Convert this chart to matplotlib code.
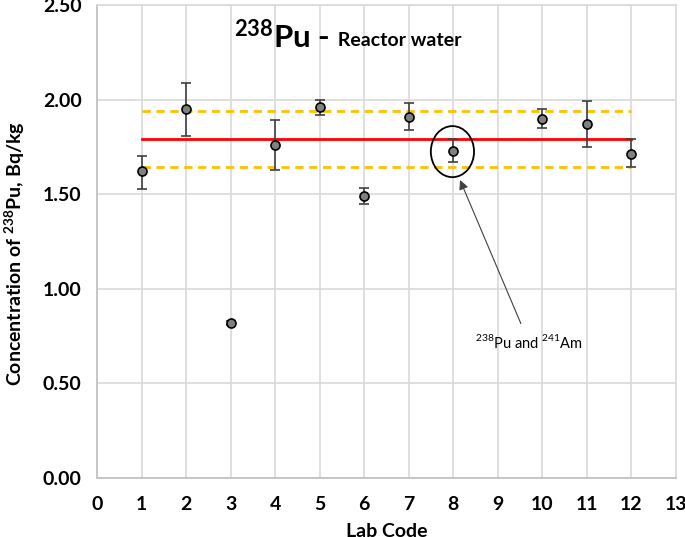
import numpy as np
import matplotlib.pyplot as plt
from matplotlib.patches import Ellipse

plt.rcParams['font.family'] = ['Lato', 'DejaVu Sans']
plt.rcParams['mathtext.fontset'] = 'custom'
plt.rcParams['mathtext.rm'] = 'Lato'
plt.rcParams['mathtext.bf'] = 'Lato:bold'

# lab results, Bq/kg (lab 9 did not report)
lab = [1, 2, 3, 4, 5, 6, 7, 8, 10, 11, 12]
conc = [1.62, 1.95, 0.82, 1.76, 1.96, 1.49, 1.91, 1.73, 1.90, 1.87, 1.71]
err_lo = [0.09, 0.14, 0.01, 0.13, 0.04, 0.04, 0.07, 0.06, 0.05, 0.12, 0.065]
err_hi = [0.08, 0.14, 0.01, 0.13, 0.04, 0.045, 0.07, 0.06, 0.05, 0.12, 0.08]

ref_value = 1.79
ref_upper = 1.94
ref_lower = 1.645
ref_x = [1, 12]

fig = plt.figure(figsize=(6.85, 5.37), dpi=100)
ax = fig.add_axes([0.1416, 0.1099, 0.9869 - 0.1416, 0.9907 - 0.1099])

ax.plot(ref_x, [ref_value, ref_value], color='#ff0000', lw=2, zorder=2)
ax.plot(ref_x, [ref_upper, ref_upper], color='#ffc000', lw=2, ls=(0, (3, 2)), zorder=2)
ax.plot(ref_x, [ref_lower, ref_lower], color='#ffc000', lw=2, ls=(0, (3, 2)), zorder=2)

ax.errorbar(lab, conc, yerr=[err_lo, err_hi], fmt='o', color='#404040',
            ecolor='#404040', elinewidth=1.2, capsize=3.5, capthick=1.2,
            markersize=6.5, markerfacecolor='#808080', markeredgecolor='black',
            markeredgewidth=1.2, zorder=3)

ax.add_patch(Ellipse((7.98, 1.725), 0.97, 0.27, fill=False, edgecolor='black',
                     lw=1.3, zorder=4))
ax.annotate(r'$^{238}$Pu and $^{241}$Am', xy=(8.15, 1.575), xytext=(9.69, 0.72),
            ha='center', va='center', fontsize=10.5,
            arrowprops=dict(arrowstyle='-|>', color='#404040', lw=0.8,
                            shrinkA=5, shrinkB=0, mutation_scale=14))

t1 = ax.text(0.402, 0.909, r'$^{\mathbf{238}}$Pu -', transform=ax.transAxes,
             fontsize=22.5, fontweight='bold', ha='right', va='baseline')
ax.annotate(' Reactor water', xy=(1, 0), xycoords=t1, xytext=(2, 3),
            textcoords='offset points', fontsize=14,
            fontweight='bold', ha='left', va='bottom')

ax.set_xlim(0, 13)
ax.set_ylim(0, 2.5)
ax.set_xticks(np.arange(0, 14))
ax.set_yticks(np.arange(0, 2.51, 0.5))
ax.set_yticklabels(['%.2f' % v for v in np.arange(0, 2.51, 0.5)])
ax.tick_params(length=0, labelsize=14)
ax.tick_params(axis='x', pad=13)
ax.tick_params(axis='y', pad=11)
for lbl in ax.get_xticklabels() + ax.get_yticklabels():
    lbl.set_fontweight('bold')

ax.grid(True, color='#d9d9d9', lw=1.2)
ax.set_axisbelow(True)
for s in ax.spines.values():
    s.set_color('#d9d9d9')
    s.set_linewidth(1.2)
ax.spines['left'].set_color('#bfbfbf')
ax.spines['bottom'].set_color('#bfbfbf')

ax.set_xlabel('Lab Code', fontsize=14, fontweight='bold')
ax.set_ylabel(r'Concentration of $^{\mathbf{238}}$Pu, Bq/kg', fontsize=14,
              fontweight='bold')
ax.xaxis.set_label_coords(0.50, -0.095)
ax.yaxis.set_label_coords(-0.121, 0.474)

fig.savefig('out.png', dpi=100)
